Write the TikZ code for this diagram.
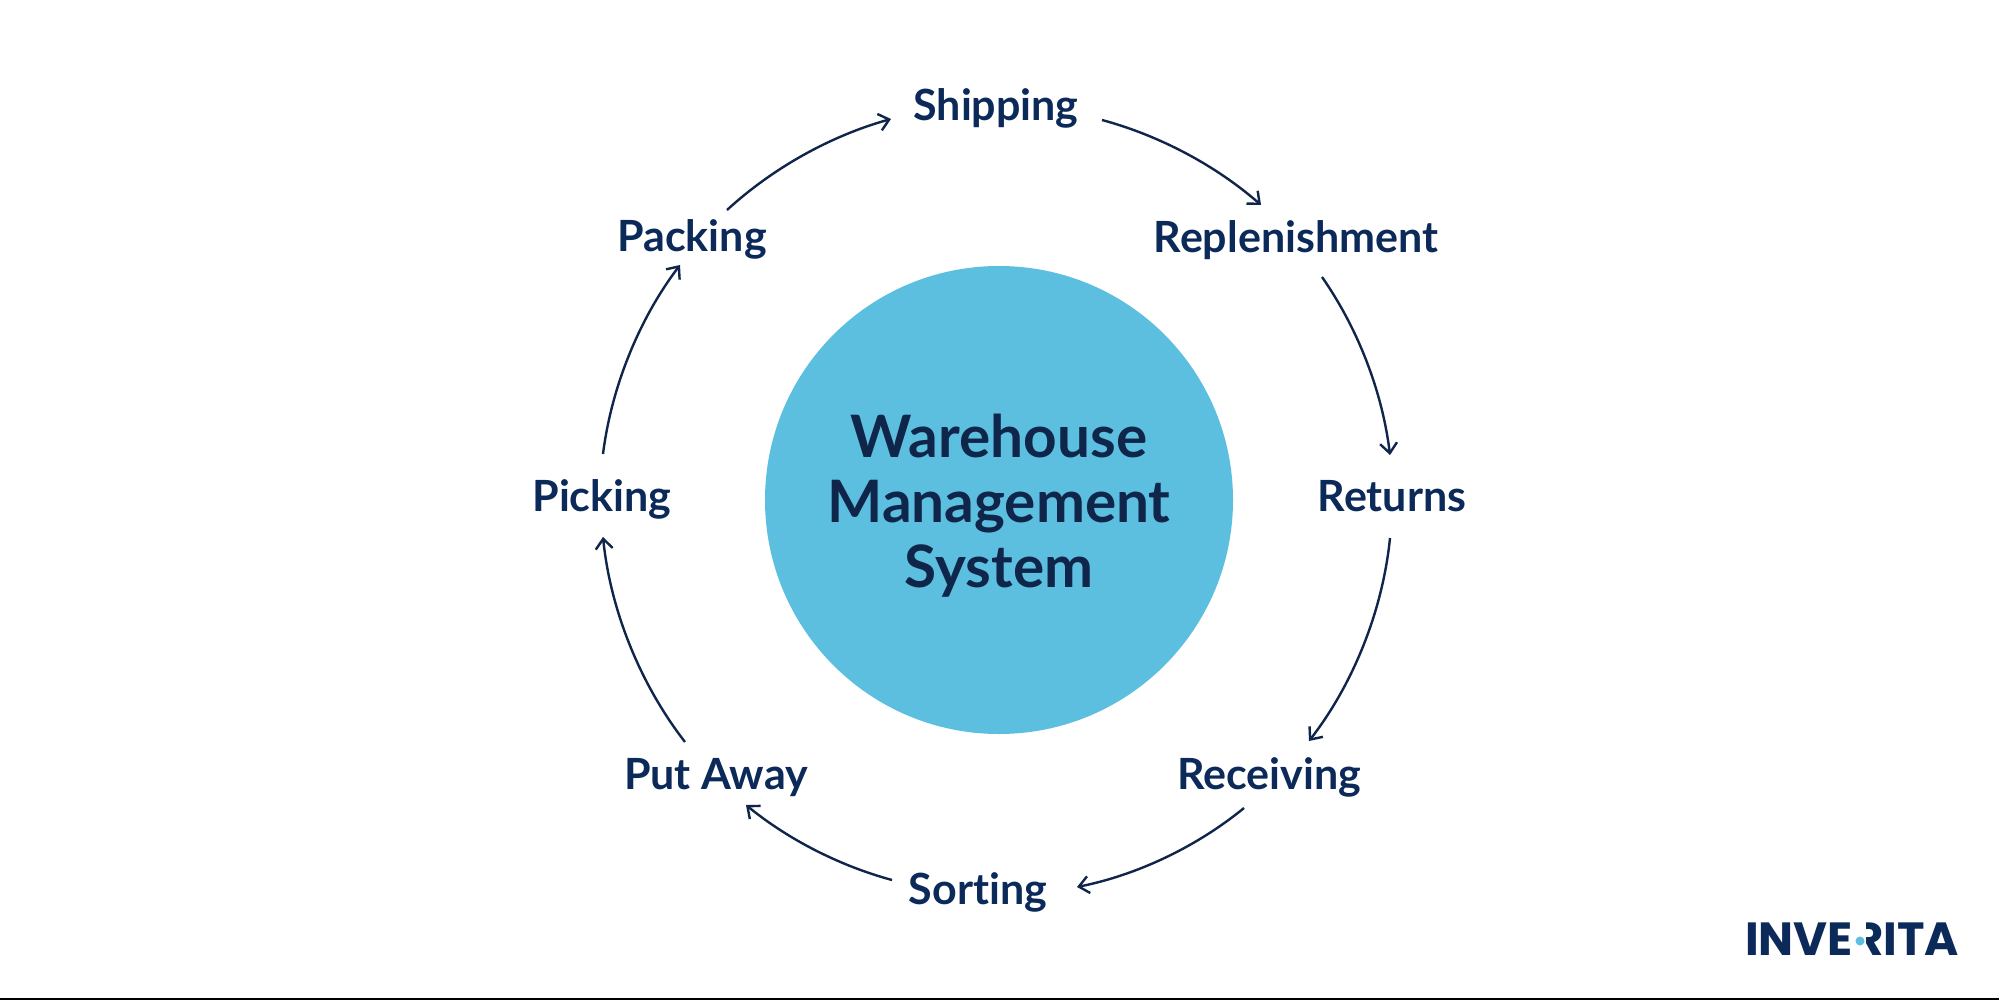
\documentclass[tikz,border=0pt]{standalone}
\usepackage{fontspec}
\setmainfont{Lato}[Ligatures=NoCommon]
\newfontfamily\logofont{Poppins}
\definecolor{navy}{HTML}{0C2A59}
\definecolor{deepnavy}{HTML}{10254A}
\definecolor{sky}{HTML}{5DBFDF}
\usetikzlibrary{arrows.meta}
\tikzset{
  stage/.style={font=\fontsize{43}{43}\selectfont\bfseries, text=navy, inner sep=0pt, text height=30pt, text depth=0pt, anchor=center},
  flow/.style={draw=deepnavy, line width=2.4pt, looseness=0.85, -{Straight Barb[length=10pt,width=17pt,line width=2.4pt]}},
}
\begin{document}
\begin{tikzpicture}[x=1pt,y=-1pt]
\useasboundingbox (0,0) rectangle (1999,1000);
\fill[white] (0,0) rectangle (1999,1000);
\fill[black] (0,998) rectangle (1999,1000);
\node[circle, fill=sky, minimum size=468pt, inner sep=0pt] (wms) at (999,500) {};
\node[inner sep=0pt, align=center, text=deepnavy, font=\fontsize{58.5}{65}\selectfont\bfseries] (wmstext) at (999,506) {Warehouse\\Management\\System};
\node[stage] (ship) at (996,106) {Shipping};
\node[stage] (repl) at (1296,238) {Replenishment};
\node[stage] (ret)  at (1392,496) {Returns};
\node[stage] (rec)  at (1269,774) {Receiving};
\node[stage] (sort) at (978,889) {Sorting};
\node[stage] (put)  at (716,774) {Put Away};
\node[stage] (pick) at (602,496) {Picking};
\node[stage] (pack) at (692,237) {Packing};
\draw[flow] ([shift={(106,14)}]ship.center) to[bend left=13] ([shift={(-35,-33)}]repl.center);
\draw[flow] ([shift={(26,39)}]repl.center) to[bend left=14] ([shift={(-2,-41)}]ret.center);
\draw[flow] ([shift={(-2,42)}]ret.center) to[bend left=16] ([shift={(40,-33)}]rec.center);
\draw[flow] ([shift={(-25,34)}]rec.center) to[bend left=14] ([shift={(99,-2)}]sort.center);
\draw[flow] ([shift={(-86,-9)}]sort.center) to[bend left=12] ([shift={(30,31)}]put.center);
\draw[flow] ([shift={(-31,-32)}]put.center) to[bend left=16] ([shift={(1,41)}]pick.center);
\draw[flow] ([shift={(1,-42)}]pick.center) to[bend left=15] ([shift={(-12,28)}]pack.center);
\draw[flow] ([shift={(35,-27)}]pack.center) to[bend left=13.5] ([shift={(-105,13)}]ship.center);
\node[inner sep=0pt, text=navy, font=\logofont\fontsize{46.5}{46.5}\selectfont\bfseries] (logo) at (1852,939) {INVERITA};
\fill[white] (1854,920) rectangle (1866,958);
\fill[sky] (1860,941) circle (4.5);
\end{tikzpicture}
\end{document}
